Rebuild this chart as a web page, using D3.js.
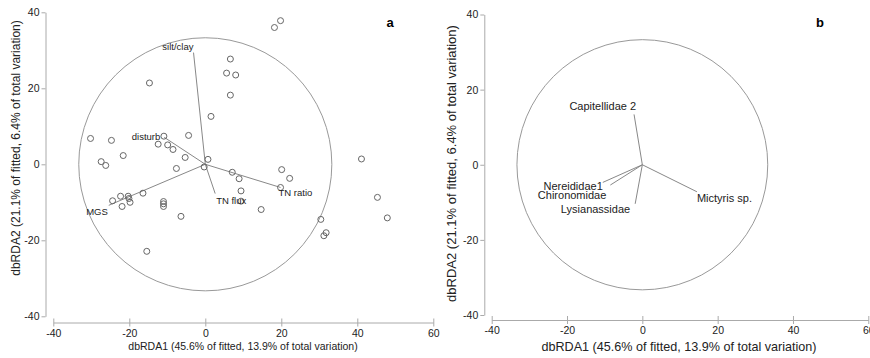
<!DOCTYPE html>
<html>
<head>
<meta charset="utf-8">
<script src="https://cdn.jsdelivr.net/npm/d3@7"></script>
<style>
  body { margin: 0; background: #fff; }
  svg { display: block; font-family: Arial, "Liberation Sans", sans-serif; }
</style>
</head>
<body>
<script>
// site scores, panel a (dbRDA1, dbRDA2)
const siteX = [-14.7, 1.5, -30.2, -24.7, -4.4, -12.4, -9.9, -8.5, -21.6, -5.3, 0.7, -27.4, -26.2, -7.6, -0.3, -10.9,
  19.8, 18.2, 6.6, 5.6, 8.0, 6.6, 41.1, 20.1, 22.2, 7.1, 8.9, 19.8, 9.4, 9.4, 14.7, 30.4, 31.8, 31.2, 45.3, 47.9,
  -16.4, -20.3, -22.3, -20.1, -19.8, -24.4, -21.9, -11.0, -11.0, -11.0, -6.4, -15.4];
const siteY = [21.4, 12.6, 6.8, 6.3, 7.6, 5.3, 5.1, 3.9, 2.3, 1.8, 1.3, 0.7, -0.3, -1.1, -0.7, 7.4,
  37.8, 36.0, 27.7, 24.0, 23.5, 18.2, 1.4, -1.4, -3.7, -2.1, -3.8, -6.1, -7.0, -9.7, -11.9, -14.5, -18.0, -18.8, -8.7, -14.1,
  -7.6, -8.4, -8.4, -9.0, -10.0, -9.6, -11.1, -9.8, -10.4, -11.1, -13.7, -22.9];

// environmental vectors, panel a
const envNames = ["silt/clay", "disturb", "MGS", "TN flux", "TN ratio"];
const envX = [-3.1, -10.8, -25.4, 2.6, 19.8];
const envY = [29.4, 7.1, -10.8, -7.7, -6.1];

// species vectors, panel b
const sppNames = ["Capitellidae 2", "Mictyris sp.", "Nereididae1", "Chironomidae", "Lysianassidae"];
const sppX = [-2.2, 14.5, -10.5, -8.5, -1.9];
const sppY = [13.4, -7.2, -4.7, -5.4, -10.4];

const circleR = 33.3;
const xTicks = [-40, -20, 0, 20, 40, 60];
const yTicks = [-40, -20, 0, 20, 40];
const xTitle = "dbRDA1 (45.6% of fitted, 13.9% of total variation)";
const yTitle = "dbRDA2 (21.1% of fitted, 6.4% of total variation)";

const svg = d3.select("body").append("svg")
  .attr("width", 870)
  .attr("height", 358);

// label placement (px offsets from vector tip)
const envLab = {
  "silt/clay": [0, -3, "end"],
  "disturb": [-4, 3, "end"],
  "MGS": [-1, 10, "end"],
  "TN flux": [1, 10, "start"],
  "TN ratio": [-2, 9, "start"]
};
const sppLab = {
  "Capitellidae 2": [2, -4, "end"],
  "Mictyris sp.": [0, 10, "start"],
  "Nereididae1": [0, 8, "end"],
  "Chironomidae": [-4, 14, "end"],
  "Lysianassidae": [-5, 9, "end"]
};

function panel(p) {
  const g = svg.append("g");
  const x = d3.scaleLinear().domain([-40, 60]).range(p.xr);
  const y = d3.scaleLinear().domain([-40, 40]).range(p.yr);
  const fmt = d => String(d);

  // y axis
  const ya = g.append("g")
    .attr("transform", `translate(${p.yAxisX},0)`)
    .call(d3.axisLeft(y).tickValues(yTicks).tickFormat(fmt).tickSize(4).tickSizeOuter(0).tickPadding(2));
  // x axis, ticks cross the line
  const xa = g.append("g")
    .attr("transform", `translate(0,${p.xAxisY})`)
    .call(d3.axisBottom(x).tickValues(xTicks).tickFormat(fmt).tickSize(4).tickSizeOuter(0).tickPadding(3));
  xa.selectAll(".tick line").attr("y1", -4);

  [ya, xa].forEach(a => {
    a.select(".domain").attr("stroke", "#aaa");
    a.selectAll(".tick line").attr("stroke", "#aaa");
    a.selectAll(".tick text").attr("fill", "#222").style("font-size", "10.5px")
      .style("font-family", "Arial, 'Liberation Sans', sans-serif");
  });

  // titles
  g.append("text")
    .attr("x", p.xTitlePos[0]).attr("y", p.xTitlePos[1])
    .attr("text-anchor", "middle")
    .style("font-size", p.xTitleSize + "px")
    .attr("fill", "#222")
    .text(xTitle);
  g.append("text")
    .attr("transform", `translate(${p.yTitlePos[0]},${p.yTitlePos[1]}) rotate(-90)`)
    .attr("text-anchor", "middle")
    .attr("dy", "0.35em")
    .style("font-size", p.yTitleSize + "px")
    .attr("fill", "#222")
    .text(yTitle);

  // correlation circle
  g.append("ellipse")
    .attr("cx", x(0)).attr("cy", y(0))
    .attr("rx", x(circleR) - x(0)).attr("ry", y(0) - y(circleR))
    .attr("fill", "none")
    .attr("stroke", "#999")
    .attr("stroke-width", 1);

  // vectors
  p.names.forEach((n, i) => {
    g.append("line")
      .attr("x1", x(0)).attr("y1", y(0))
      .attr("x2", x(p.vx[i])).attr("y2", y(p.vy[i]))
      .attr("stroke", "#888")
      .attr("stroke-width", 1);
  });

  // sites
  if (p.sx) {
    g.selectAll("circle.site")
      .data(p.sx.map((v, i) => [v, p.sy[i]]))
      .join("circle")
      .attr("class", "site")
      .attr("cx", d => x(d[0]))
      .attr("cy", d => y(d[1]))
      .attr("r", 3)
      .attr("fill", "none")
      .attr("stroke", "#666")
      .attr("stroke-width", 1);
  }

  // vector labels
  p.names.forEach((n, i) => {
    const o = p.lab[n];
    g.append("text")
      .attr("x", x(p.vx[i]) + o[0])
      .attr("y", y(p.vy[i]) + o[1])
      .attr("text-anchor", o[2])
      .style("font-size", p.labSize + "px")
      .attr("fill", "#222")
      .text(n);
  });

  g.append("text")
    .attr("x", p.letter[0]).attr("y", p.letter[1])
    .attr("text-anchor", "middle")
    .style("font-size", "13px")
    .style("font-weight", "bold")
    .text(p.letter[2]);
}

panel({
  xr: [53.3, 433.3], yr: [316.3, 12.3], yAxisX: 45.5, xAxisY: 322.5,
  xTitlePos: [243, 349.5], xTitleSize: 10.5,
  yTitlePos: [16, 148], yTitleSize: 12,
  names: envNames, vx: envX, vy: envY, lab: envLab, labSize: 9.5,
  sx: siteX, sy: siteY,
  letter: [390, 27, "a"]
});

panel({
  xr: [491.7, 868.3], yr: [315, 14.5], yAxisX: 484.3, xAxisY: 320,
  xTitlePos: [679, 350.5], xTitleSize: 12.6,
  yTitlePos: [451, 163.5], yTitleSize: 13,
  names: sppNames, vx: sppX, vy: sppY, lab: sppLab, labSize: 11,
  letter: [820, 27, "b"]
});
</script>
</body>
</html>
